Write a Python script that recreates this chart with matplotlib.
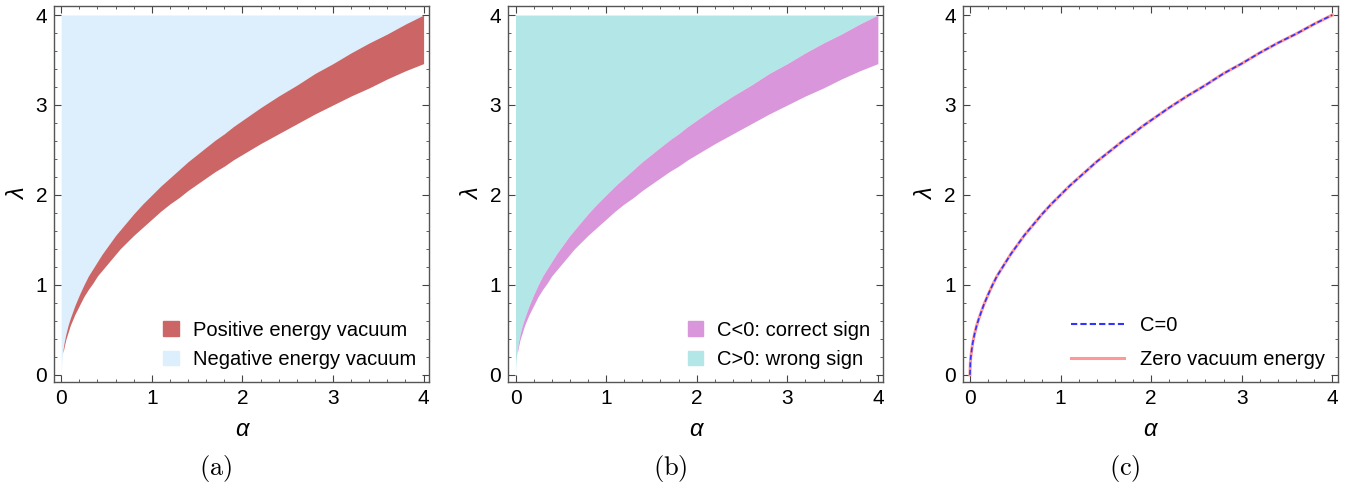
import matplotlib
matplotlib.use("Agg")
import matplotlib.pyplot as plt
import matplotlib.patches as mpatches
from matplotlib.lines import Line2D
from matplotlib.ticker import MultipleLocator

plt.rcParams["font.family"] = ["Liberation Sans", "DejaVu Sans"]
plt.rcParams["mathtext.fontset"] = "cm"

# ── Curves ─────────────────────────────────────────────────────────────────────
alpha = [0.0, 0.005, 0.01, 0.02, 0.03, 0.05, 0.075, 0.1, 0.15, 0.2,
         0.25, 0.3, 0.35, 0.4, 0.45, 0.5, 0.55, 0.6, 0.65, 0.7,
         0.75, 0.8, 0.9, 1.0, 1.1, 1.2, 1.3, 1.4, 1.5, 1.6,
         1.7, 1.8, 1.9, 2.0, 2.2, 2.4, 2.6, 2.8, 3.0, 3.2,
         3.4, 3.6, 3.8, 4.0]
lam_upper = [0.0, 0.14, 0.2, 0.28, 0.35, 0.45, 0.55, 0.63, 0.77, 0.89,
             1.0, 1.10, 1.18, 1.26, 1.34, 1.41, 1.48, 1.55, 1.61, 1.67,
             1.73, 1.79, 1.90, 2.0, 2.10, 2.19, 2.28, 2.37, 2.45, 2.53,
             2.61, 2.68, 2.76, 2.83, 2.97, 3.10, 3.22, 3.35, 3.46, 3.58,
             3.69, 3.79, 3.90, 4.0]
lam_lower = [0.0, 0.12, 0.17, 0.245, 0.30, 0.39, 0.47, 0.55, 0.67, 0.77,
             0.87, 0.95, 1.02, 1.10, 1.16, 1.22, 1.28, 1.34, 1.40, 1.45,
             1.50, 1.55, 1.64, 1.73, 1.82, 1.90, 1.97, 2.05, 2.12, 2.19,
             2.26, 2.32, 2.39, 2.45, 2.57, 2.68, 2.79, 2.90, 3.0, 3.10,
             3.19, 3.29, 3.38, 3.46]

# band only starts a little off the origin
band_start = 3
LAM_TOP = 4.0

RED = "#cc6666"
LIGHTBLUE = "#ddeefc"
ORCHID = "#da96da"
CYAN = "#b3e6e6"
DASHBLUE = "#3333ff"
SALMON = "#ff9999"

labels_a = ["Positive energy vacuum", "Negative energy vacuum"]
labels_b = ["C<0: correct sign", "C>0: wrong sign"]
labels_c = ["C=0", "Zero vacuum energy"]
panel_tags = ["(a)", "(b)", "(c)"]

fig = plt.figure(figsize=(13.5, 4.87), dpi=100)
lefts = [0.040, 0.3765, 0.7131]
axes = [fig.add_axes([l, 0.2156, 0.2778, 0.772]) for l in lefts]


def style_axes(ax):
    ax.set_xlim(-0.08, 4.06)
    ax.set_ylim(-0.08, 4.1)
    ax.xaxis.set_major_locator(MultipleLocator(1))
    ax.yaxis.set_major_locator(MultipleLocator(1))
    ax.xaxis.set_minor_locator(MultipleLocator(0.2))
    ax.yaxis.set_minor_locator(MultipleLocator(0.2))
    ax.tick_params(which="both", direction="in", top=True, right=True,
                   color="#444444")
    ax.tick_params(which="major", length=5, width=0.8, labelsize=15, pad=5)
    ax.tick_params(which="minor", length=2.5, width=0.6)
    for s in ax.spines.values():
        s.set_color("#555555")
        s.set_linewidth(1.0)
    ax.set_xlabel("α", fontsize=17, style="italic", labelpad=7)
    ax.set_ylabel("λ", fontsize=17, style="italic", labelpad=4)


def regions(ax, c_band, c_top, labels):
    ax.fill_between(alpha, lam_upper, LAM_TOP, color=c_top, lw=0, zorder=1)
    ax.fill_between(alpha[band_start:], lam_lower[band_start:], lam_upper[band_start:],
                    color=c_band, lw=0, zorder=2)
    handles = [mpatches.Patch(color=c_band, label=labels[0]),
               mpatches.Patch(color=c_top, label=labels[1])]
    ax.legend(handles=handles, loc="lower right", frameon=False, fontsize=14.5,
              handlelength=0.75, handleheight=0.75, handletextpad=0.7,
              labelspacing=0.5, borderaxespad=0.25)


style_axes(axes[0])
regions(axes[0], RED, LIGHTBLUE, labels_a)

style_axes(axes[1])
regions(axes[1], ORCHID, CYAN, labels_b)

ax = axes[2]
style_axes(ax)
ax.plot(alpha, lam_upper, color=SALMON, lw=2.2, zorder=2)
ax.plot(alpha, lam_upper, color=DASHBLUE, lw=1.2, ls=(0, (3, 1.5)), zorder=3)
handles = [Line2D([0], [0], color=DASHBLUE, lw=1.5, ls=(0, (3, 1.5)), label=labels_c[0]),
           Line2D([0], [0], color=SALMON, lw=2.2, label=labels_c[1])]
ax.legend(handles=handles, loc="lower right", frameon=False, fontsize=14.5,
          handlelength=2.6, handletextpad=0.8, labelspacing=0.75,
          borderaxespad=0.25)

for a, tag in zip(axes, panel_tags):
    pos = a.get_position()
    fig.text(pos.x0 + pos.width / 2 - 0.019, 0.038, r"$\mathrm{" + tag + "}$",
             ha="center", va="center", fontsize=19)

fig.savefig("out.png", dpi=100)
